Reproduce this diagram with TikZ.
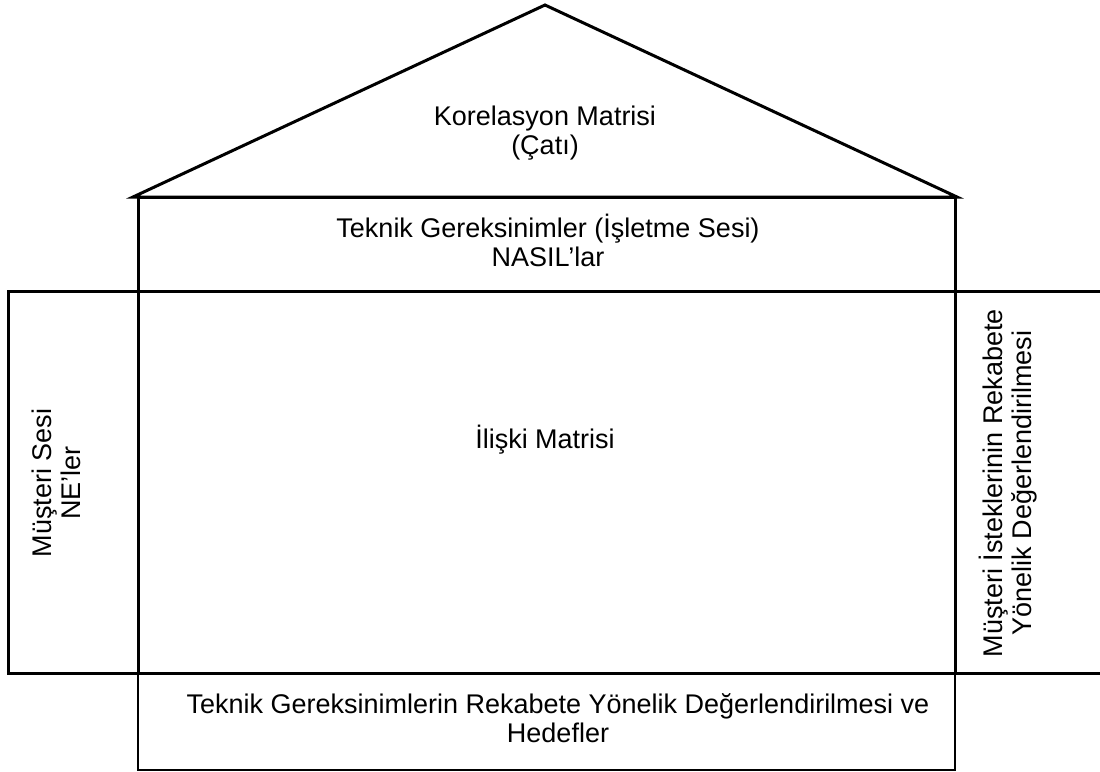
\documentclass[tikz,border=0pt]{standalone}
\usepackage{fontspec}
\setmainfont{Liberation Sans}
\begin{document}
\begin{tikzpicture}[x=1pt,y=-1pt,
    frame/.style={draw=black,line width=3pt,line join=miter},
    thinframe/.style={draw=black,line width=2.2pt},
    label/.style={align=center,font=\fontsize{27}{29}\selectfont,inner sep=0pt}]
  \useasboundingbox (0,0) rectangle (1100,771);
  % key corners of the house
  \coordinate (apex) at (545,5);
  \coordinate (roofL) at (133,197);
  \coordinate (roofR) at (957,197);
  \coordinate (ul) at (138,197);
  \coordinate (ur) at (955,197);
  \coordinate (ml) at (138,291);
  \coordinate (mr) at (955,291);
  \coordinate (bl) at (138,673);
  \coordinate (br) at (955,673);
  \coordinate (lo) at (8,291);
  \coordinate (lb) at (8,673);
  \coordinate (edgeT) at (1100,291);
  \coordinate (edgeB) at (1100,673);
  \coordinate (fl) at (138,770);
  \coordinate (fr) at (955,770);
  % roof
  \draw[frame] (roofL) -- (apex) -- (roofR) -- cycle;
  % technical requirements row and relationship matrix
  \draw[frame] (ul) rectangle (mr);
  \draw[frame] (ml) rectangle (br);
  % customer voice column
  \draw[frame] (lo) rectangle (bl);
  % competitive assessment column (open to the right)
  \draw[frame] (mr) -- (edgeT);
  \draw[frame] (br) -- (edgeB);
  % targets row
  \draw[thinframe] (bl) -- (fl) -- (fr) -- (br);
  % texts
  \node[label] (roof) at (545,133) {Korelasyon Matrisi\\(Çatı)};
  \node[label] (hows) at (548,240) {Teknik Gereksinimler (İşletme Sesi)\\NASIL’lar};
  \node[label] (rel) at (545,440) {İlişki Matrisi};
  \node[label,rotate=90] (whats) at (56,483) {Müşteri Sesi\\NE’ler};
  \node[label,rotate=90] (comp) at (1008,483) {Müşteri İsteklerinin Rekabete\\Yönelik Değerlendirilmesi};
  \node[label] (targets) at (558,718) {Teknik Gereksinimlerin Rekabete Yönelik Değerlendirilmesi ve\\Hedefler};
\end{tikzpicture}
\end{document}
